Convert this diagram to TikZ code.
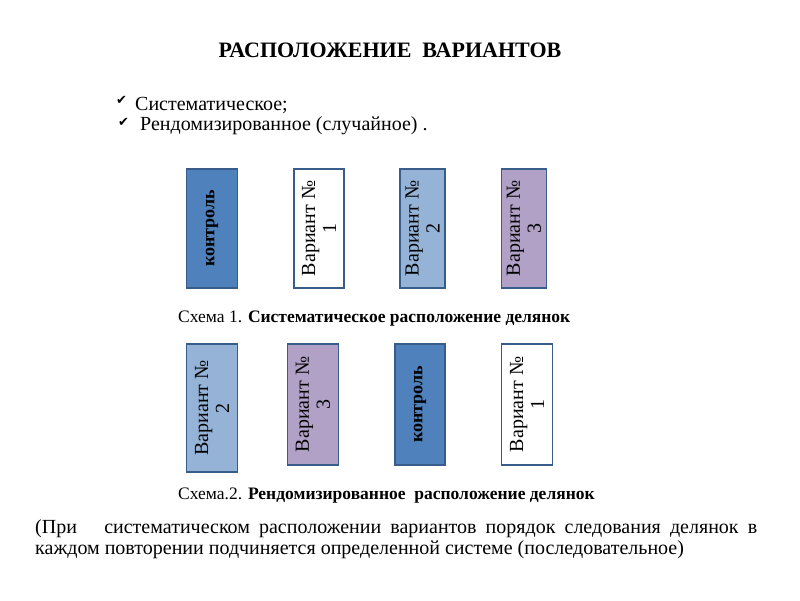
\documentclass[tikz,border=0pt]{standalone}
\usepackage{fontspec}
\setmainfont{Liberation Serif}
\newfontfamily\symfont{DejaVu Sans}
\definecolor{ctrlblue}{HTML}{4F81BD}
\definecolor{edgeblue}{HTML}{385D8A}
\definecolor{lightblue}{HTML}{95B3D7}
\definecolor{lilac}{HTML}{B2A1C7}
\begin{document}
\begin{tikzpicture}[x=1pt,y=-1pt,
  plotbox/.style={draw=edgeblue, line width=1.8pt, inner sep=0pt, rotate=90, align=center, font=\fontsize{20}{21}\selectfont},
  ctrlbox/.style={plotbox, fill=ctrlblue, font=\bfseries\fontsize{18}{21}\selectfont},
  txt/.style={anchor=base west, inner sep=0pt},
  check/.style={anchor=base west, inner sep=0pt, font=\symfont\fontsize{13}{13}\selectfont}]
\useasboundingbox (0,0) rectangle (800,600);
\fill[white] (0,0) rectangle (800,600);
\node[anchor=base, inner sep=0pt, font=\bfseries\fontsize{22}{24}\selectfont] (title) at (390,57) {РАСПОЛОЖЕНИЕ\ \ ВАРИАНТОВ};
\node[check] (c1) at (116,104) {✔};
\node[txt, font=\fontsize{20}{24}\selectfont] (l1) at (135,110) {Систематическое;};
\node[check] (c2) at (118,126) {✔};
\node[txt, font=\fontsize{20}{24}\selectfont] (l2) at (140,130) {Рендомизированное (случайное) .};
% row 1
\node[ctrlbox, minimum width=119pt, minimum height=51pt] (k1) at (212,228.5) {контроль};
\node[plotbox, fill=white, minimum width=119pt, minimum height=50pt] (v1) at (319,228.5) {Вариант №\\1};
\node[plotbox, fill=lightblue, minimum width=119pt, minimum height=45pt] (v2) at (422.5,228.5) {Вариант №\\2};
\node[plotbox, fill=lilac, minimum width=119pt, minimum height=45pt] (v3) at (524,228.5) {Вариант №\\3};
\node[txt, font=\fontsize{17.5}{19}\selectfont] (cap1) at (178,322) {Схема 1. \textbf{Систематическое расположение делянок}};
% row 2
\node[plotbox, fill=lightblue, minimum width=128pt, minimum height=51pt] (r2) at (212,408) {Вариант №\\2};
\node[plotbox, fill=lilac, minimum width=121pt, minimum height=51pt] (r3) at (313,404.5) {Вариант №\\3};
\node[ctrlbox, minimum width=121pt, minimum height=50pt] (rk) at (420,404.5) {контроль};
\node[plotbox, fill=white, minimum width=121pt, minimum height=51pt] (r1) at (527,404.5) {Вариант №\\1};
\node[txt, font=\fontsize{17.5}{19}\selectfont] (cap2) at (178,499) {Схема.2. \textbf{Рендомизированное\ \ расположение делянок}};
% paragraph
\node[txt, font=\fontsize{20}{22}\selectfont] (p1) at (35,533) {\makebox[722pt][s]{(При\ \ \ систематическом расположении вариантов порядок следования делянок в}};
\node[txt, font=\fontsize{20}{22}\selectfont] (p2) at (35,554) {каждом повторении подчиняется определенной системе (последовательное)};
\end{tikzpicture}
\end{document}
